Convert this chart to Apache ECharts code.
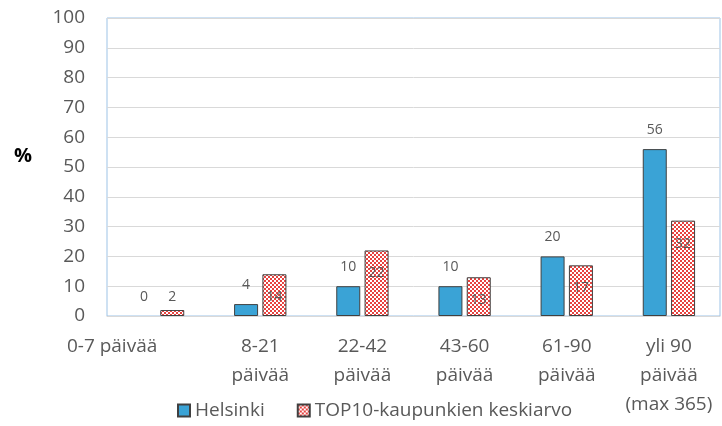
<!DOCTYPE html>
<html>
<head>
<meta charset="utf-8">
<script src="https://cdn.jsdelivr.net/npm/echarts@6/dist/echarts.min.js"></script>
<style>
  html, body { margin: 0; padding: 0; background: #fff; }
  #chart { width: 722px; height: 426px; }
</style>
</head>
<body>
<div id="chart"></div>
<script>
// data
var categories = ['0-7 päivää', '8-21\npäivää', '22-42\npäivää', '43-60\npäivää', '61-90\npäivää', 'yli 90\npäivää\n(max 365)'];
var helsinki = [0, 4, 10, 10, 20, 56];
var top10 = [2, 14, 22, 13, 17, 32];
var yTicks = [0, 10, 20, 30, 40, 50, 60, 70, 80, 90, 100];

// red/white check pattern for the TOP10 bars
function checker() {
    var c = document.createElement('canvas');
    c.width = 4; c.height = 4;
    var ctx = c.getContext('2d');
    ctx.fillStyle = '#ffffff';
    ctx.fillRect(0, 0, 4, 4);
    ctx.fillStyle = '#e8423f';
    ctx.fillRect(0, 0, 2, 2);
    ctx.fillRect(2, 2, 2, 2);
    return c;
}
var pattern = { image: checker(), repeat: 'repeat' };

var font = '"Open Sans", Lato, sans-serif';
var myChart = echarts.init(document.getElementById('chart'));

var option = {
    animation: false,
    textStyle: { fontFamily: font },
    grid: {
        left: 107, right: 2, top: 18, bottom: 110,
        show: true, borderColor: '#9dc3e6', borderWidth: 1
    },
    legend: {
        left: 172, top: 396,
        itemWidth: 12, itemHeight: 12, itemGap: 32,
        textStyle: { fontSize: 19, color: '#595959', fontFamily: font },
        data: [
            { name: 'Helsinki', icon: 'rect' },
            { name: 'TOP10-kaupunkien keskiarvo', icon: 'rect' }
        ]
    },
    graphic: [{
        type: 'text', left: 14, top: 146,
        style: { text: '%', fontSize: 20, fontWeight: 'bold', fill: '#000', fontFamily: font }
    }],
    xAxis: {
        type: 'category',
        data: categories,
        axisLine: { lineStyle: { color: '#d9d9d9' } },
        axisTick: { show: false },
        axisLabel: {
            interval: 0, margin: 16, color: '#595959', fontSize: 19, lineHeight: 29,
            formatter: function (v, i) { return i === 0 ? '{a|' + v + '}' : v; },
            rich: { a: { fontSize: 19, color: '#595959', padding: [0, 92, 0, 0] } }
        }
    },
    yAxis: {
        type: 'value', min: 0, max: 100, interval: 10,
        axisLine: { show: false },
        axisTick: { show: false },
        splitLine: { lineStyle: { color: '#d9d9d9' } },
        axisLabel: {
            margin: 22, color: '#595959', fontSize: 19,
            formatter: function (v) { return yTicks.indexOf(v) >= 0 ? String(v) : ''; }
        }
    },
    series: [
        {
            name: 'Helsinki', type: 'bar',
            data: helsinki.map(function (v) {
                return v === 0 ? { value: v, itemStyle: { borderWidth: 0 } } : v;
            }),
            barWidth: 24, barGap: '18%',
            itemStyle: { color: '#3aa3d6', borderColor: '#404040', borderWidth: 1 },
            label: { show: true, position: 'top', distance: 12, color: '#595959', fontSize: 14 }
        },
        {
            name: 'TOP10-kaupunkien keskiarvo', type: 'bar',
            data: top10.map(function (v) {
                return {
                    value: v,
                    label: v < 5 ? { position: 'top', distance: 6 } : { position: 'insideTop', distance: 16 }
                };
            }),
            barWidth: 24,
            itemStyle: { color: pattern, borderColor: '#404040', borderWidth: 1 },
            label: { show: true, color: '#595959', fontSize: 14 }
        }
    ]
};

myChart.setOption(option);
</script>
</body>
</html>
